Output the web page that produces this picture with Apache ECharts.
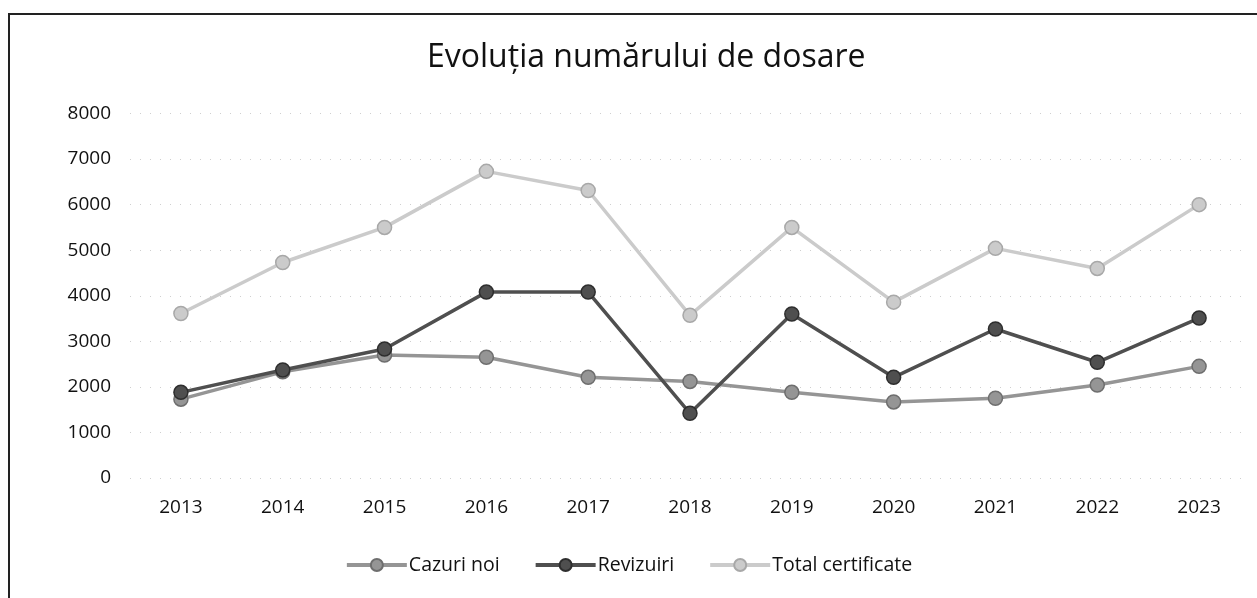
<!DOCTYPE html>
<html>
<head>
<meta charset="utf-8">
<script src="https://cdn.jsdelivr.net/npm/echarts@6/dist/echarts.min.js"></script>
<style>
html,body{margin:0;padding:0;background:#fff;}
#frame{position:absolute;left:8px;top:13px;width:1270px;height:620px;border:2px solid #222;box-sizing:border-box;}
#chart{position:absolute;left:0;top:0;width:1257px;height:598px;}
</style>
</head>
<body>
<div id="frame"></div>
<div id="chart"></div>
<script>
const title = "Evoluția numărului de dosare";
const years = ["2013","2014","2015","2016","2017","2018","2019","2020","2021","2022","2023"];
const cazuriNoi = [1730, 2330, 2700, 2650, 2210, 2120, 1880, 1670, 1750, 2040, 2450];
const revizuiri = [1880, 2370, 2830, 4080, 4080, 1420, 3600, 2210, 3270, 2540, 3510];
const totalCertificate = [3610, 4730, 5500, 6730, 6310, 3570, 5500, 3860, 5040, 4600, 6000];
const seriesNames = ["Cazuri noi", "Revizuiri", "Total certificate"];

const chart = echarts.init(document.getElementById('chart'));
function mk(name, data, color, border) {
  return {
    name: name, type: 'line', data: data,
    symbol: 'circle', symbolSize: 14,
    lineStyle: {color: color, width: 3.5},
    itemStyle: {color: color, borderColor: border, borderWidth: 1.5},
    emphasis: {disabled: true}
  };
}
chart.setOption({
  animation: false,
  title: {
    text: title, left: 422, top: 37,
    textStyle: {fontFamily: 'Open Sans', fontSize: 32, fontWeight: 'normal', color: '#111'}
  },
  legend: {
    bottom: 18, left: 'center', itemGap: 34, itemWidth: 60, itemHeight: 15,
    textStyle: {fontFamily: 'Open Sans', fontSize: 19.5, color: '#111', padding: [0, 0, 0, -3]},
    lineStyle: {width: 4},
    data: seriesNames
  },
  grid: {left: 130, right: 7, top: 113.5, bottom: 120},
  xAxis: {
    type: 'category', data: years, boundaryGap: true,
    axisLine: {show: false}, axisTick: {show: false},
    axisLabel: {fontFamily: 'Open Sans', fontSize: 19, color: '#111', margin: 20}
  },
  yAxis: {
    type: 'value', min: 0, max: 8000, interval: 1000,
    axisLine: {show: false}, axisTick: {show: false},
    axisLabel: {fontFamily: 'Open Sans', fontSize: 19, color: '#111', margin: 19,
      formatter: function (v) { return String(v); }},
    splitLine: {lineStyle: {color: '#cfcfcf', type: [1, 9], width: 1}}
  },
  series: [
    mk(seriesNames[0], cazuriNoi, '#959595', '#6e6e6e'),
    mk(seriesNames[1], revizuiri, '#4f4f4f', '#2e2e2e'),
    mk(seriesNames[2], totalCertificate, '#cbcbcb', '#a8a8a8')
  ]
});
</script>
</body>
</html>
